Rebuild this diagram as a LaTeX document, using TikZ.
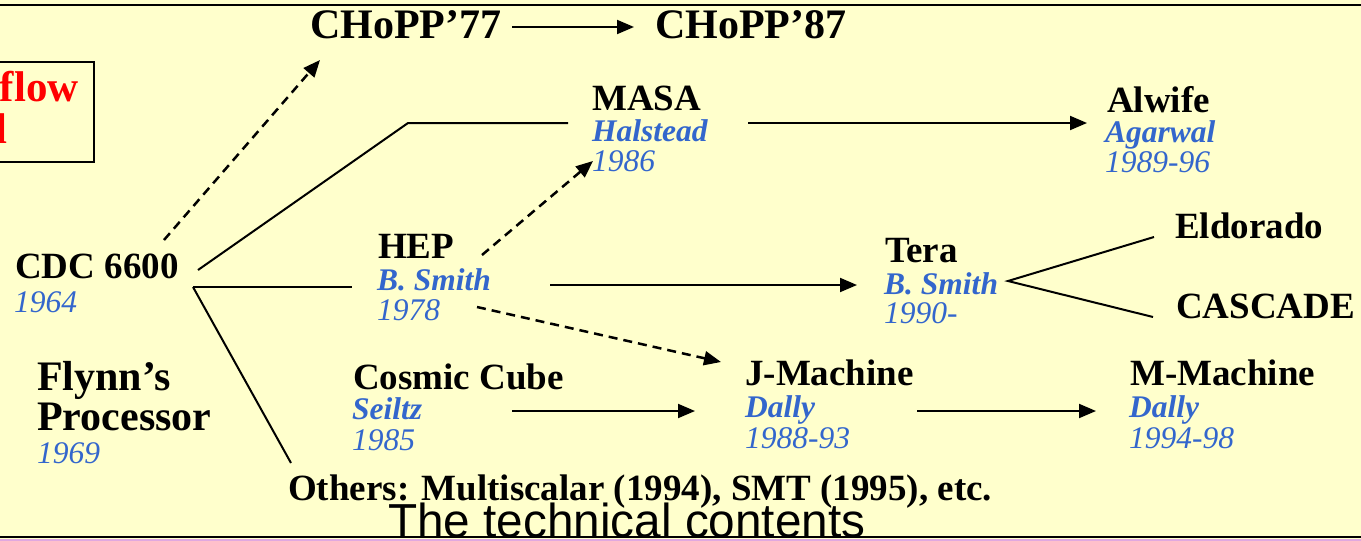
\documentclass[tikz,border=0pt]{standalone}
\usepackage{fontspec}
\setmainfont{Liberation Serif}
\newfontfamily\captionsans{Liberation Sans}
\usetikzlibrary{arrows.meta}
\definecolor{paper}{HTML}{FFFFCC}
\definecolor{namecol}{HTML}{3366CC}
\definecolor{stripcol}{HTML}{E0A8E0}
\begin{document}
\begin{tikzpicture}[x=1pt,y=-1pt,
  title/.style={anchor=base west, inner sep=0pt, font=\fontsize{37}{40}\selectfont\bfseries},
  bigtitle/.style={anchor=base west, inner sep=0pt, font=\fontsize{42}{45}\selectfont\bfseries},
  who/.style={anchor=base west, inner sep=0pt, text=namecol, font=\fontsize{31.5}{34}\selectfont\bfseries\itshape},
  when/.style={anchor=base west, inner sep=0pt, text=namecol, font=\fontsize{31.5}{34}\selectfont\itshape},
  link/.style={line width=2pt},
  arr/.style={line width=2pt, -{Triangle[length=17pt,width=14pt]}},
  darr/.style={line width=2.5pt, dash pattern=on 9pt off 6pt, -{Triangle[length=17pt,width=14pt]}}]

% slide background and frame lines
\fill[paper] (0,0) rectangle (1361,541);
\useasboundingbox (0,0) rectangle (1361,541);
\fill[stripcol] (0,538.5) rectangle (1361,541);
\draw[line width=2pt] (0,4.5) -- (1361,4.5);
\draw[line width=2pt] (0,536.5) -- (1361,536.5);

% red boxed label at the left edge
\draw[line width=2pt] (-5,62) rectangle (94,162);
\node[anchor=base east, inner sep=0pt, text=red, font=\fontsize{43}{46}\selectfont\bfseries] (dfa) at (79,101) {flow};
\node[anchor=base east, inner sep=0pt, text=red, font=\fontsize{43}{46}\selectfont\bfseries] (dfb) at (8,143) {l};

% CHoPP
\node[bigtitle] (chopa) at (310,38) {CHoPP’77};
\node[bigtitle] (chopb) at (655,38) {CHoPP’87};
\coordinate (ca) at (512,27);
\coordinate (cb) at (634,27);
\draw[arr] (ca) -- (cb);

% CDC 6600
\node[title] (cdc) at (15,278) {CDC 6600};
\node[when] (cdcy) at (14,312) {1964};

% Flynn's Processor
\node[bigtitle] (fly) at (37,390) {Flynn’s};
\node[bigtitle] (flyb) at (37,430) {Processor};
\node[when] (flyy) at (37,463) {1969};

% MASA
\node[title] (masa) at (592,110) {MASA};
\node[who] (masaa) at (592,141) {Halstead};
\node[when] (masay) at (592,171) {1986};

% Alwife
\node[title] (alw) at (1107,112) {Alwife};
\node[who] (alwa) at (1105,142) {Agarwal};
\node[when] (alwy) at (1105,172) {1989-96};

% HEP
\node[title] (hep) at (378,258) {HEP};
\node[who] (hepa) at (377,290) {B. Smith};
\node[when] (hepy) at (377,320) {1978};

% Tera
\node[title] (tera) at (885,262) {Tera};
\node[who] (teraa) at (884,294) {B. Smith};
\node[when] (teray) at (884,323) {1990-};

% Eldorado, CASCADE
\node[title] (eld) at (1175,238) {Eldorado};
\node[title] (cas) at (1176,318) {CASCADE};

% Cosmic Cube
\node[title] (cc) at (353,389) {Cosmic Cube};
\node[who] (cca) at (352,419) {Seiltz};
\node[when] (ccy) at (352,450) {1985};

% J-Machine
\node[title] (jm) at (745,385) {J-Machine};
\node[who] (jma) at (745,417) {Dally};
\node[when] (jmy) at (745,448) {1988-93};

% M-Machine
\node[title] (mm) at (1130,385) {M-Machine};
\node[who] (mma) at (1129,417) {Dally};
\node[when] (mmy) at (1129,448) {1994-98};

% others and caption
\node[title] (oth) at (288,500) {Others: Multiscalar (1994), SMT (1995), etc.};
\node[anchor=base west, inner sep=0pt, font=\fontsize{47.7}{50}\selectfont\captionsans] (cap) at (388,537) {The technical contents};

% connector end points
\coordinate (cdc-up) at (198,270);
\coordinate (cdc-dn) at (193,287);
\coordinate (cdc-ch) at (164,240);
\coordinate (masa-bend) at (408,123);
\coordinate (masa-in) at (568,123);
\coordinate (hep-in) at (352,287);
\coordinate (oth-in) at (291,463);
\coordinate (chop-in) at (320,60);
\coordinate (hep-ne) at (482,255);
\coordinate (masa-sw) at (593,161);
\coordinate (hep-se) at (477,307);
\coordinate (jm-nw) at (721,362);
\coordinate (hep-out) at (550,285);
\coordinate (tera-in) at (857,285);
\coordinate (masa-out) at (748,123);
\coordinate (alw-in) at (1087,123);
\coordinate (tera-out) at (1008,281);
\coordinate (eld-in) at (1154,237);
\coordinate (cas-in) at (1153,317);
\coordinate (cc-out) at (512,411);
\coordinate (jm-in) at (695,411);
\coordinate (jm-out) at (917,411);
\coordinate (mm-in) at (1096,411);

% connectors
\draw[link] (cdc-up) -- (masa-bend) -- (masa-in);
\draw[link] (cdc-dn) -- (hep-in);
\draw[link] (cdc-dn) -- (oth-in);
\draw[darr] (cdc-ch) -- (chop-in);
\draw[darr] (hep-ne) -- (masa-sw);
\draw[darr] (hep-se) -- (jm-nw);
\draw[arr] (hep-out) -- (tera-in);
\draw[arr] (masa-out) -- (alw-in);
\draw[link] (eld-in) -- (tera-out) -- (cas-in);
\draw[arr] (cc-out) -- (jm-in);
\draw[arr] (jm-out) -- (mm-in);
\end{tikzpicture}
\end{document}
